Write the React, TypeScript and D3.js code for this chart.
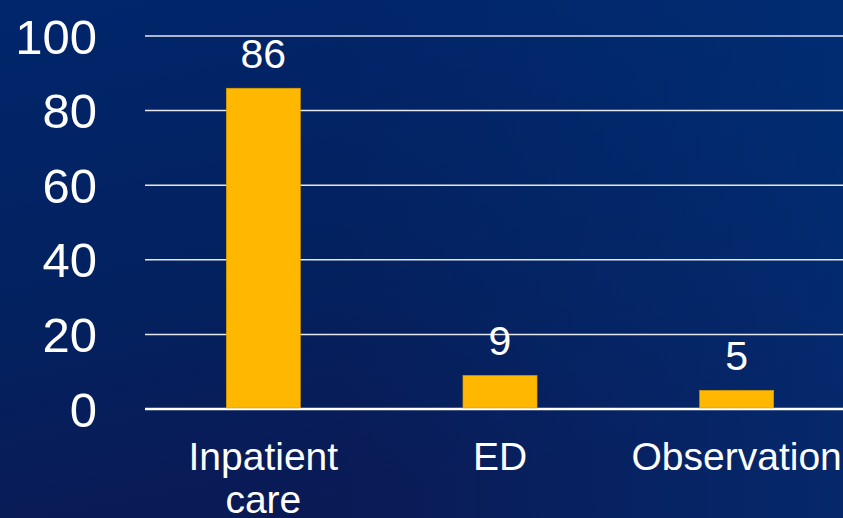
import React from "react";
import * as d3 from "d3";

const categories: string[][] = [["Inpatient", "care"], ["ED"], ["Observation"]];
const values: number[] = [86, 9, 5];
const yTicks: number[] = [0, 20, 40, 60, 80, 100];

const W = 843;
const H = 518;
const FONT = "'Liberation Sans', Arial, sans-serif";

export default function App() {
  const x = d3
    .scaleBand<number>()
    .domain(d3.range(values.length))
    .range([145, 855])
    .paddingInner(0.687)
    .paddingOuter(0.3435);
  const y = d3.scaleLinear().domain([0, 100]).range([409, 36]);

  return (
    <svg
      width={W}
      height={H}
      style={{ position: "absolute", left: 0, top: 0, display: "block" }}
    >
      <defs>
        <linearGradient id="bg" x1="0" y1="0" x2="0.35" y2="1">
          <stop offset="0" stopColor="#01266c" />
          <stop offset="0.55" stopColor="#03215f" />
          <stop offset="1" stopColor="#0a1a55" />
        </linearGradient>
        <linearGradient id="bg2" x1="1" y1="0" x2="0" y2="0">
          <stop offset="0" stopColor="#00347e" stopOpacity="0.55" />
          <stop offset="0.6" stopColor="#00347e" stopOpacity="0" />
        </linearGradient>
      </defs>
      <rect width={W} height={H} fill="url(#bg)" />
      <rect width={W} height={H} fill="url(#bg2)" />

      {yTicks.map((t) => (
        <g key={t}>
          <line
            x1={145}
            x2={W}
            y1={y(t)}
            y2={y(t)}
            stroke={t === 0 ? "#ffffff" : "#e6e8f0"}
            strokeWidth={t === 0 ? 2.5 : 1.5}
          />
          <text
            x={97}
            y={y(t)}
            dy="0.36em"
            textAnchor="end"
            fill="#ffffff"
            fontFamily={FONT}
            fontSize={49}
          >
            {t}
          </text>
        </g>
      ))}

      {values.map((v, i) => {
        const bx = x(i)!;
        const bw = x.bandwidth();
        return (
          <g key={i}>
            <rect
              x={bx}
              y={y(v)}
              width={bw}
              height={y(0) - y(v) - 1}
              fill="#ffb700"
              stroke="#d99a00"
              strokeWidth={0.6}
            />
            <text
              x={bx + bw / 2}
              y={y(v) - 20}
              textAnchor="middle"
              fill="#ffffff"
              fontFamily={FONT}
              fontSize={41}
            >
              {v}
            </text>
            {categories[i].map((line, j) => (
              <text
                key={j}
                x={bx + bw / 2}
                y={470 + j * 43}
                textAnchor="middle"
                fill="#ffffff"
                fontFamily={FONT}
                fontSize={39}
              >
                {line}
              </text>
            ))}
          </g>
        );
      })}
    </svg>
  );
}
